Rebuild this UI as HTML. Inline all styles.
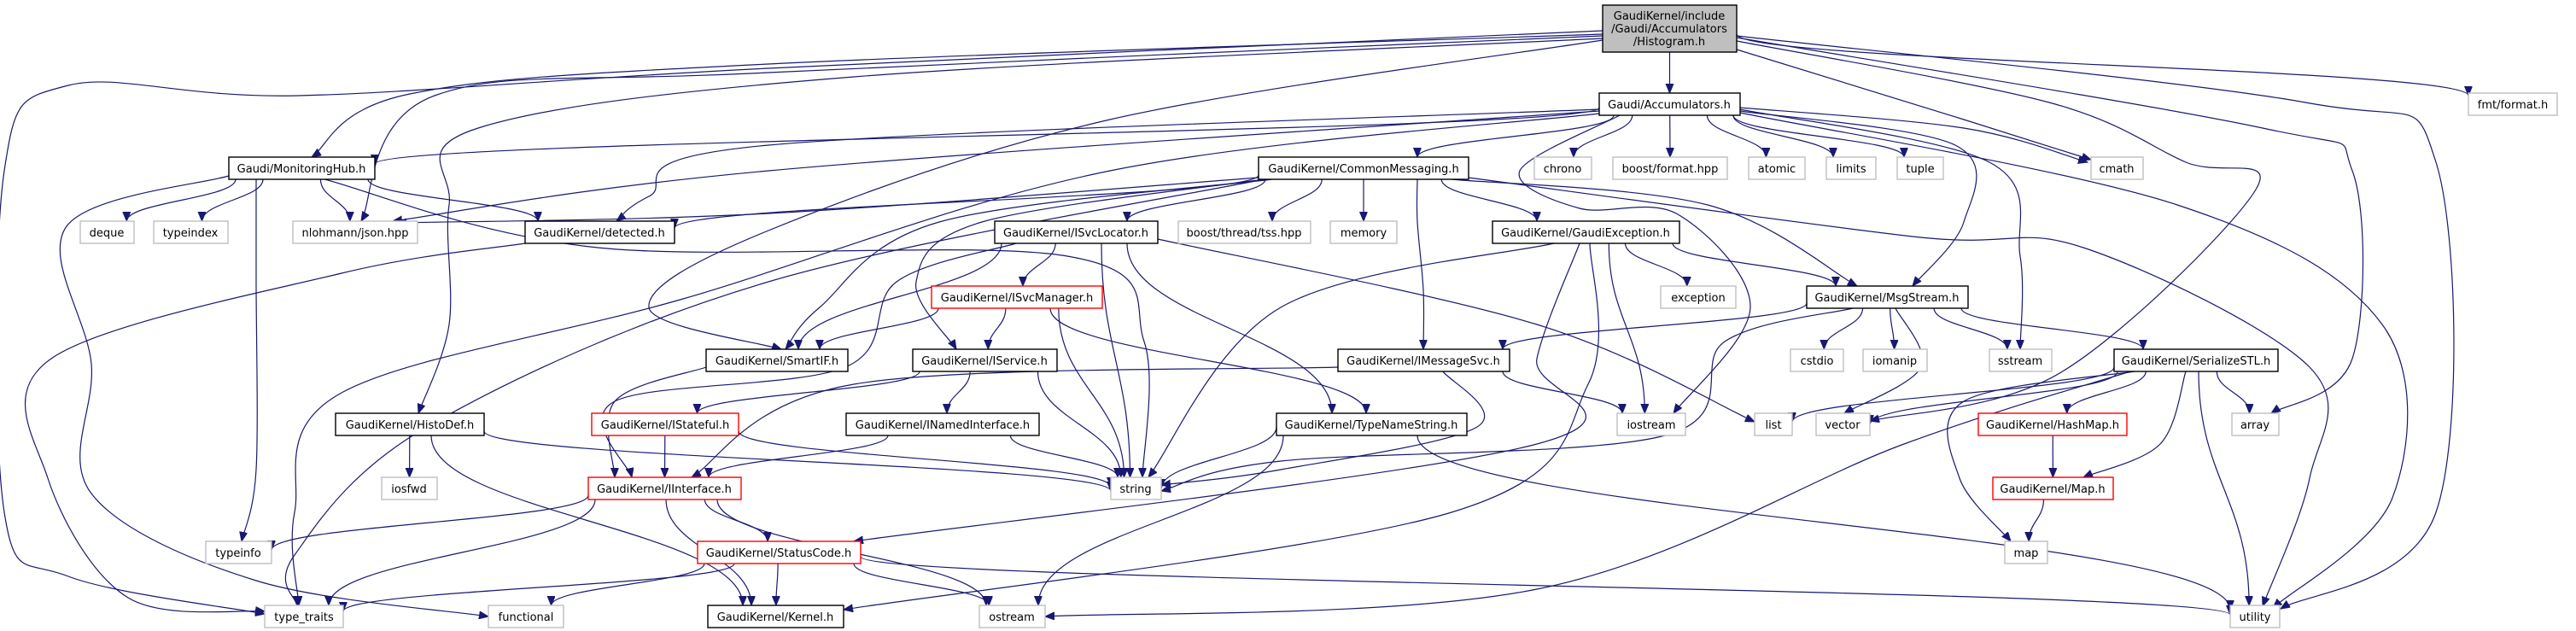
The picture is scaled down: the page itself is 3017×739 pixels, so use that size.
<!DOCTYPE html>
<html><head><meta charset="utf-8">
<style>
html,body{margin:0;padding:0;background:#fff;}
svg{display:block;}
text{font-family:"DejaVu Sans","Liberation Sans",sans-serif;font-size:13px;fill:#000;text-anchor:middle;}
rect{stroke-width:1.4;}
.b{fill:#fff;stroke:#000;}
.g{fill:#fff;stroke:#bfbfbf;}
.r{fill:#fff;stroke:#ff0000;}
</style></head><body>
<svg id="s" width="3017" height="739" viewBox="0 0 3017 739" xmlns="http://www.w3.org/2000/svg">
<defs><marker id="ah" markerUnits="userSpaceOnUse" markerWidth="12" markerHeight="10" refX="11" refY="4.5" orient="auto"><path d="M0,0 L11,4.5 L0,9 z" fill="#191970" stroke="#191970"/></marker></defs>
<g id="edges" fill="none" stroke="#191970" stroke-width="1.2"></g>
<g id="nodes">
<rect id="root" x="1877" y="6" width="157" height="55" style="fill:#bfbfbf;stroke:#000"/>
<text x="1955" y="23">GaudiKernel/include</text><text x="1955" y="38">/Gaudi/Accumulators</text><text x="1955" y="53">/Histogram.h</text>

<rect id="acc" class="b" x="1873" y="109" width="165" height="26"/><text x="1955" y="127">Gaudi/Accumulators.h</text>
<rect id="fmt" class="g" x="2891" y="109" width="104" height="26"/><text x="2943" y="127">fmt/format.h</text>

<rect id="mon" class="b" x="268" y="184" width="171" height="26"/><text x="353" y="202">Gaudi/MonitoringHub.h</text>
<rect id="comm" class="b" x="1474" y="184" width="246" height="26"/><text x="1597" y="202">GaudiKernel/CommonMessaging.h</text>
<rect id="chrono" class="g" x="1797" y="184" width="67" height="26"/><text x="1830" y="202">chrono</text>
<rect id="bfmt" class="g" x="1889" y="184" width="134" height="26"/><text x="1956" y="202">boost/format.hpp</text>
<rect id="atomic" class="g" x="2048" y="184" width="66" height="26"/><text x="2081" y="202">atomic</text>
<rect id="limits" class="g" x="2139" y="184" width="58" height="26"/><text x="2168" y="202">limits</text>
<rect id="tuple" class="g" x="2222" y="184" width="54" height="26"/><text x="2249" y="202">tuple</text>
<rect id="cmath" class="g" x="2449" y="184" width="61" height="26"/><text x="2479" y="202">cmath</text>

<rect id="deque" class="g" x="94" y="259" width="63" height="26"/><text x="125" y="277">deque</text>
<rect id="typeindex" class="g" x="180" y="259" width="87" height="26"/><text x="223" y="277">typeindex</text>
<rect id="json" class="g" x="343" y="259" width="146" height="26"/><text x="416" y="277">nlohmann/json.hpp</text>
<rect id="detected" class="b" x="615" y="259" width="175" height="26"/><text x="702" y="277">GaudiKernel/detected.h</text>
<rect id="svcloc" class="b" x="1165" y="259" width="191" height="26"/><text x="1260" y="277">GaudiKernel/ISvcLocator.h</text>
<rect id="tss" class="g" x="1380" y="259" width="155" height="26"/><text x="1457" y="277">boost/thread/tss.hpp</text>
<rect id="memory" class="g" x="1558" y="259" width="78" height="26"/><text x="1597" y="277">memory</text>
<rect id="gexc" class="b" x="1748" y="259" width="219" height="26"/><text x="1857" y="277">GaudiKernel/GaudiException.h</text>

<rect id="svcmgr" class="r" x="1091" y="335" width="200" height="26"/><text x="1191" y="353">GaudiKernel/ISvcManager.h</text>
<rect id="exception" class="g" x="1945" y="335" width="88" height="26"/><text x="1989" y="353">exception</text>
<rect id="msgs" class="b" x="2116" y="335" width="189" height="26"/><text x="2210" y="353">GaudiKernel/MsgStream.h</text>

<rect id="smartif" class="b" x="827" y="409" width="166" height="26"/><text x="910" y="427">GaudiKernel/SmartIF.h</text>
<rect id="iservice" class="b" x="1069" y="409" width="169" height="26"/><text x="1153" y="427">GaudiKernel/IService.h</text>
<rect id="imsg" class="b" x="1567" y="409" width="201" height="26"/><text x="1667" y="427">GaudiKernel/IMessageSvc.h</text>
<rect id="cstdio" class="g" x="2097" y="409" width="62" height="26"/><text x="2128" y="427">cstdio</text>
<rect id="iomanip" class="g" x="2182" y="409" width="75" height="26"/><text x="2219" y="427">iomanip</text>
<rect id="sstream" class="g" x="2330" y="409" width="73" height="26"/><text x="2366" y="427">sstream</text>
<rect id="sstl" class="b" x="2476" y="409" width="192" height="26"/><text x="2572" y="427">GaudiKernel/SerializeSTL.h</text>

<rect id="histodef" class="b" x="393" y="484" width="174" height="26"/><text x="480" y="502">GaudiKernel/HistoDef.h</text>
<rect id="istateful" class="r" x="693" y="484" width="172" height="26"/><text x="779" y="502">GaudiKernel/IStateful.h</text>
<rect id="inamed" class="b" x="991" y="484" width="226" height="26"/><text x="1104" y="502">GaudiKernel/INamedInterface.h</text>
<rect id="tns" class="b" x="1495" y="484" width="223" height="26"/><text x="1606" y="502">GaudiKernel/TypeNameString.h</text>
<rect id="iostream" class="g" x="1894" y="484" width="80" height="26"/><text x="1934" y="502">iostream</text>
<rect id="list" class="g" x="2055" y="484" width="44" height="26"/><text x="2077" y="502">list</text>
<rect id="vector" class="g" x="2127" y="484" width="63" height="26"/><text x="2158" y="502">vector</text>
<rect id="hashmap" class="r" x="2317" y="484" width="174" height="26"/><text x="2404" y="502">GaudiKernel/HashMap.h</text>
<rect id="array" class="g" x="2614" y="484" width="55" height="26"/><text x="2641" y="502">array</text>

<rect id="iosfwd" class="g" x="447" y="559" width="65" height="26"/><text x="479" y="577">iosfwd</text>
<rect id="iinterface" class="r" x="689" y="559" width="179" height="26"/><text x="778" y="577">GaudiKernel/IInterface.h</text>
<rect id="string" class="g" x="1301" y="559" width="59" height="26"/><text x="1330" y="577">string</text>
<rect id="maph" class="r" x="2334" y="559" width="141" height="26"/><text x="2404" y="577">GaudiKernel/Map.h</text>

<rect id="typeinfo" class="g" x="241" y="634" width="77" height="26"/><text x="279" y="652">typeinfo</text>
<rect id="statuscode" class="r" x="817" y="634" width="191" height="26"/><text x="912" y="652">GaudiKernel/StatusCode.h</text>
<rect id="map" class="g" x="2348" y="634" width="50" height="26"/><text x="2373" y="652">map</text>

<rect id="type_traits" class="g" x="310" y="709" width="92" height="26"/><text x="356" y="727">type_traits</text>
<rect id="functional" class="g" x="572" y="709" width="88" height="26"/><text x="616" y="727">functional</text>
<rect id="kernel" class="b" x="829" y="709" width="159" height="26"/><text x="908" y="727">GaudiKernel/Kernel.h</text>
<rect id="ostream" class="g" x="1147" y="709" width="77" height="26"/><text x="1185" y="727">ostream</text>
<rect id="utility" class="g" x="2612" y="709" width="58" height="26"/><text x="2641" y="727">utility</text>
</g>
</svg>
<script>
(function(){
var G=document.getElementById('edges');
function B(id){var r=document.getElementById(id);var x=+r.getAttribute('x'),y=+r.getAttribute('y'),w=+r.getAttribute('width'),h=+r.getAttribute('height');return {x1:x,y1:y,x2:x+w,y2:y+h,cx:x+w/2,cy:y+h/2};}
function cl(v,a,b){return Math.max(a,Math.min(b,v));}
function add(d){var p=document.createElementNS('http://www.w3.org/2000/svg','path');p.setAttribute('d',d);p.setAttribute('marker-end','url(#ah)');G.appendChild(p);}
function f(n){return n.toFixed(1);}
function E(s,t,o){o=o||{};var a=B(s),b=B(t);
 if(!o.w){
  var sx=o.s?o.s[0]:cl(a.cx+(b.cx-a.cx)*0.35,a.x1+8,a.x2-8), sy=o.s?o.s[1]:a.y2;
  var tx=o.e?o.e[0]:cl(b.cx+(a.cx-b.cx)*0.1,b.x1+8,b.x2-8), ty=o.e?o.e[1]:b.y1;
  var dy=(ty-sy)*0.45;
  add('M'+f(sx)+','+f(sy)+' C'+f(sx)+','+f(sy+dy)+' '+f(tx)+','+f(ty-dy)+' '+f(tx)+','+f(ty));
  return;}
 var w=o.w, P=[];
 var s0=o.s||[cl(w[0][0],a.x1+8,a.x2-8),a.y2];
 var e0=o.e||[cl(w[w.length-1][0],b.x1+8,b.x2-8),b.y1];
 P.push(s0);w.forEach(function(q){P.push(q)});P.push(e0);
 var d='M'+f(P[0][0])+','+f(P[0][1]);
 for(var i=0;i<P.length-1;i++){var p0=P[i-1]||P[i],p1=P[i],p2=P[i+1],p3=P[i+2]||p2;
  d+=' C'+f(p1[0]+(p2[0]-p0[0])/6)+','+f(p1[1]+(p2[1]-p0[1])/6)+' '+f(p2[0]-(p3[0]-p1[0])/6)+','+f(p2[1]-(p3[1]-p1[1])/6)+' '+f(p2[0])+','+f(p2[1]);}
 add(d);}
// root
E('root','acc');
E('root','mon',{s:[1877,40],w:[[900,75],[480,110]],e:[365,184]});
E('root','json',{s:[1877,42],w:[[900,85],[509,112]],e:[423,259]});
E('root','histodef',{s:[1877,45],w:[[1000,90],[560,150],[526,240],[526,380]],e:[490,484]});
E('root','type_traits',{s:[1877,36],w:[[900,80],[350,112],[80,100],[5,200],[5,600],[80,675]],e:[310,719]});
E('root','smartif',{s:[1877,47],w:[[1300,140],[900,270],[760,360]],e:[915,409]});
E('root','cmath',{s:[2034,58],w:[[2300,140]],e:[2449,187]});
E('root','fmt',{s:[2034,40],e:[2891,112]});
E('root','utility',{s:[2034,42],w:[[2700,120],[2853,190],[2853,600]],e:[2671,713]});
E('root','array',{s:[2034,44],w:[[2650,150],[2755,200],[2755,420]],e:[2660,484]});
E('root','vector',{s:[2034,48],w:[[2400,120],[2560,190],[2642,222],[2414,436]],e:[2190,493]});
// accumulators
E('acc','mon',{s:[1873,126],e:[439,192]});
E('acc','json',{s:[1873,130],w:[[900,200]],e:[460,259]});
E('acc','detected',{s:[1873,128],w:[[900,170],[760,230]],e:[722,259]});
E('acc','comm',{s:[1890,135],e:[1660,184]});
E('acc','chrono');E('acc','bfmt');E('acc','atomic');E('acc','limits');E('acc','tuple');
E('acc','cmath',{s:[2038,126],w:[[2300,150]],e:[2445,190]});
E('acc','sstream',{s:[2038,128],w:[[2330,190],[2366,300]],e:[2366,409]});
E('acc','msgs',{s:[2038,130],w:[[2290,170],[2300,260]],e:[2240,335]});
E('acc','utility',{s:[2038,132],w:[[2550,240],[2790,380],[2802,583]],e:[2662,712]});
E('acc','iostream',{s:[1897,135],w:[[1780,200],[1850,244],[1965,251],[2050,360]],e:[1960,484]});
E('acc','type_traits',{s:[1873,133],w:[[1300,200],[800,350],[400,460],[345,600]],e:[350,709]});
// monitoring hub
E('mon','deque');E('mon','typeindex');E('mon','json');
E('mon','detected',{e:[630,259]});
E('mon','typeinfo',{w:[[300,330],[300,550]],e:[283,634]});
E('mon','functional',{s:[268,206],w:[[78,265],[107,426],[107,578],[300,680]],e:[572,722]});
E('mon','string',{s:[380,210],w:[[700,290],[1250,300],[1340,400]],e:[1338,559]});
E('detected','type_traits',{s:[615,285],w:[[400,320],[60,420],[56,560],[150,700]],e:[310,716]});
// common messaging
E('comm','detected',{s:[1474,205],e:[790,267]});
E('comm','json',{s:[1474,208],w:[[900,250]],e:[465,261]});
E('comm','smartif',{s:[1490,210],w:[[1100,260],[960,360]],e:[920,409]});
E('comm','iservice',{s:[1480,210],w:[[1150,260],[1073,330]],e:[1120,409]});
E('comm','svcloc',{e:[1320,259]});
E('comm','tss',{e:[1490,259]});
E('comm','memory');
E('comm','imsg',{w:[[1660,260],[1667,340]],e:[1667,409]});
E('comm','gexc',{e:[1800,259]});
E('comm','msgs',{s:[1700,210],w:[[2000,240]],e:[2175,335]});
E('comm','utility',{s:[1720,208],w:[[2240,277],[2440,290],[2705,430],[2705,560]],e:[2650,710]});
E('comm','type_traits',{s:[1480,210],w:[[900,330],[500,500],[345,650]],e:[348,709]});
// svc locator
E('svcloc','svcmgr');E('svcloc','smartif',{e:[935,409]});
E('svcloc','iinterface',{s:[1190,285],w:[[1050,330],[990,430],[720,470]],e:[740,559]});
E('svcloc','string',{s:[1290,285]});
E('svcloc','list',{s:[1356,280],w:[[1800,380]],e:[2055,494]});
E('svcloc','tns',{s:[1320,285],e:[1560,484]});
E('svcmgr','smartif',{e:[960,409]});E('svcmgr','iservice');E('svcmgr','string');
E('svcmgr','tns',{s:[1230,361],e:[1600,484]});
E('smartif','iinterface',{s:[827,430],w:[[720,470]],e:[720,559]});
E('iservice','istateful');E('iservice','inamed');E('iservice','string');
E('istateful','iinterface');E('istateful','string',{s:[865,505],e:[1301,570]});
E('inamed','iinterface',{s:[1040,510],e:[830,559]});E('inamed','string');
E('histodef','iosfwd');E('histodef','string',{s:[567,505],e:[1301,575]});E('histodef','kernel',{s:[505,510],e:[870,709]});
E('iinterface','typeinfo',{s:[689,580],e:[318,644]});E('iinterface','type_traits',{e:[385,709]});
E('iinterface','statuscode');E('iinterface','kernel',{s:[780,585],e:[880,709]});E('iinterface','ostream',{s:[840,585]});
E('statuscode','type_traits',{s:[860,660],e:[402,716]});E('statuscode','functional');E('statuscode','kernel');
E('statuscode','ostream');E('statuscode','utility',{s:[1008,652],e:[2612,720]});
E('tns','string',{s:[1495,500],e:[1360,572]});E('tns','ostream');E('tns','utility',{s:[1660,510],e:[2612,714]});
E('imsg','iinterface',{s:[1567,430],w:[[1000,450]],e:[810,559]});E('imsg','iostream',{e:[1900,484]});
E('imsg','string',{s:[1690,435],w:[[1730,500],[1500,550]],e:[1360,568]});
E('gexc','string',{s:[1820,285],w:[[1500,360]],e:[1345,559]});E('gexc','iostream');E('gexc','exception');
E('gexc','msgs',{e:[2150,335]});
E('gexc','statuscode',{s:[1850,285],w:[[1800,420],[1800,520]],e:[1000,634]});
E('gexc','kernel',{s:[1862,285],w:[[1860,450],[1700,600]],e:[988,714]});
// msgstream
E('msgs','imsg',{s:[2116,355],e:[1760,409]});E('msgs','sstl',{e:[2510,409]});
E('msgs','cstdio');E('msgs','iomanip');E('msgs','sstream');
E('msgs','vector',{s:[2220,361],w:[[2250,430]],e:[2160,484]});
E('msgs','string',{s:[2170,361],w:[[2020,400],[1950,510],[1500,540]],e:[1360,575]});
// serialize
E('sstl','list',{s:[2476,430],e:[2099,494]});E('sstl','vector',{s:[2480,435],e:[2190,497]});
E('sstl','array');E('sstl','hashmap');E('sstl','maph',{s:[2560,435],w:[[2530,520]],e:[2440,559]});
E('sstl','map',{s:[2500,435],w:[[2300,470],[2295,560]],e:[2355,634]});
E('sstl','utility',{s:[2575,435]});
E('sstl','ostream',{s:[2495,435],w:[[2230,520],[1800,690]],e:[1224,722]});
E('hashmap','maph');E('maph','map');
})();
</script>
</body></html>
